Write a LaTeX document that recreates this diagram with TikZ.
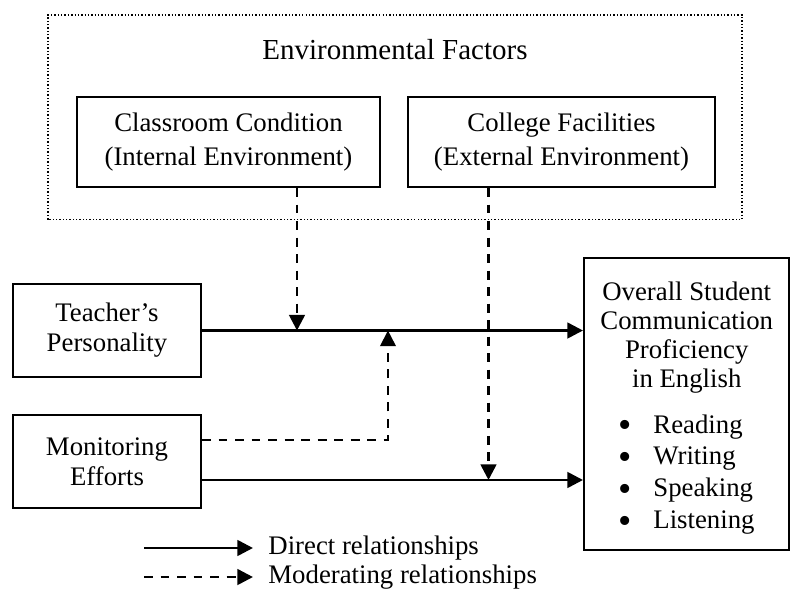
\documentclass[tikz,border=0pt]{standalone}
\usepackage{fontspec}
\setmainfont{Liberation Serif}
\usetikzlibrary{arrows.meta}

\newcommand\bul{\raisebox{-2.2pt}[0pt][0pt]{\fontsize{17}{13}\selectfont\textbullet}}

\begin{document}
\begin{tikzpicture}[
  box/.style={draw, line width=0.9pt, align=center, inner sep=2pt, font=\fontsize{12}{13.4}\selectfont},
  dir/.style={line width=1.2pt, -{Triangle[length=7pt,width=7pt]}},
  mod/.style={dir, dash pattern=on 4pt off 3.4pt},
  legtext/.style={anchor=west, inner sep=0pt, font=\fontsize{12}{13.4}\selectfont}
]
\def\bw{2.961}
\def\bh{1.45}
\useasboundingbox (0,0) rectangle (12.457,9.339);
\draw[line width=0.6pt, dash pattern=on 0.6pt off 0.9pt] (0.756,5.882) rectangle (11.685,9.102);
\node[font=\fontsize{13}{15}\selectfont] (env) at (6.22,8.551) {Environmental Factors};
\node[box, minimum width=4.772cm, minimum height=1.417cm] (class) at (3.598,7.102) {Classroom Condition\\[1.5pt](Internal Environment)};
\node[box, minimum width=4.835cm, minimum height=1.417cm] (college) at (8.843,7.102) {College Facilities\\[1.5pt](External Environment)};
\node[box, minimum width=\bw cm, minimum height=\bh cm] (teacher) at (1.685,4.134) {Teacher's\\Personality};
\node[box, minimum width=\bw cm, minimum height=\bh cm] (monitor) at (1.685,2.071) {Monitoring\\Efforts};
\node[box, minimum width=3.236cm, minimum height=4.598cm, font=\fontsize{12}{13}\selectfont] (overall) at (10.815,2.976)
  {\rule{0pt}{13.6pt}Overall Student\\Communication\\Proficiency\\in English\\[7.5pt]
   \begin{tabular}{@{}l@{\hspace{9.5pt}}l@{}}
   \bul & Reading\\[1.3pt]
   \bul & Writing\\[1.3pt]
   \bul & Speaking\\[1.3pt]
   \bul & Listening
   \end{tabular}};

\coordinate (m1) at (4.677,0);
\coordinate (m2) at (6.110,0);
\coordinate (m3) at (7.693,0);
\coordinate (lo) at ([yshift=-0.291cm]monitor.east);
\coordinate (hi) at ([yshift=0.338cm]monitor.east);

\draw[dir] (teacher.east) -- (teacher.east -| overall.west);
\draw[dir] (lo) -- (lo -| overall.west);
\draw[mod] (class.south -| m1) -- (teacher.east -| m1);
\draw[mod, line width=0.8pt] (hi) -| (teacher.east -| m2);
\draw[mod] (college.south -| m3) -- (lo -| m3);

\coordinate (ld1) at (2.268,0.709);
\coordinate (ld2) at (3.984,0.709);
\coordinate (lm1) at (2.268,0.252);
\coordinate (lm2) at (3.984,0.252);
\draw[dir] (ld1) -- (ld2);
\draw[mod] (lm1) -- (lm2);
\node[legtext] (ldir) at (4.22,0.709) {Direct relationships};
\node[legtext] (lmod) at (4.22,0.252) {Moderating relationships};
\end{tikzpicture}
\end{document}
